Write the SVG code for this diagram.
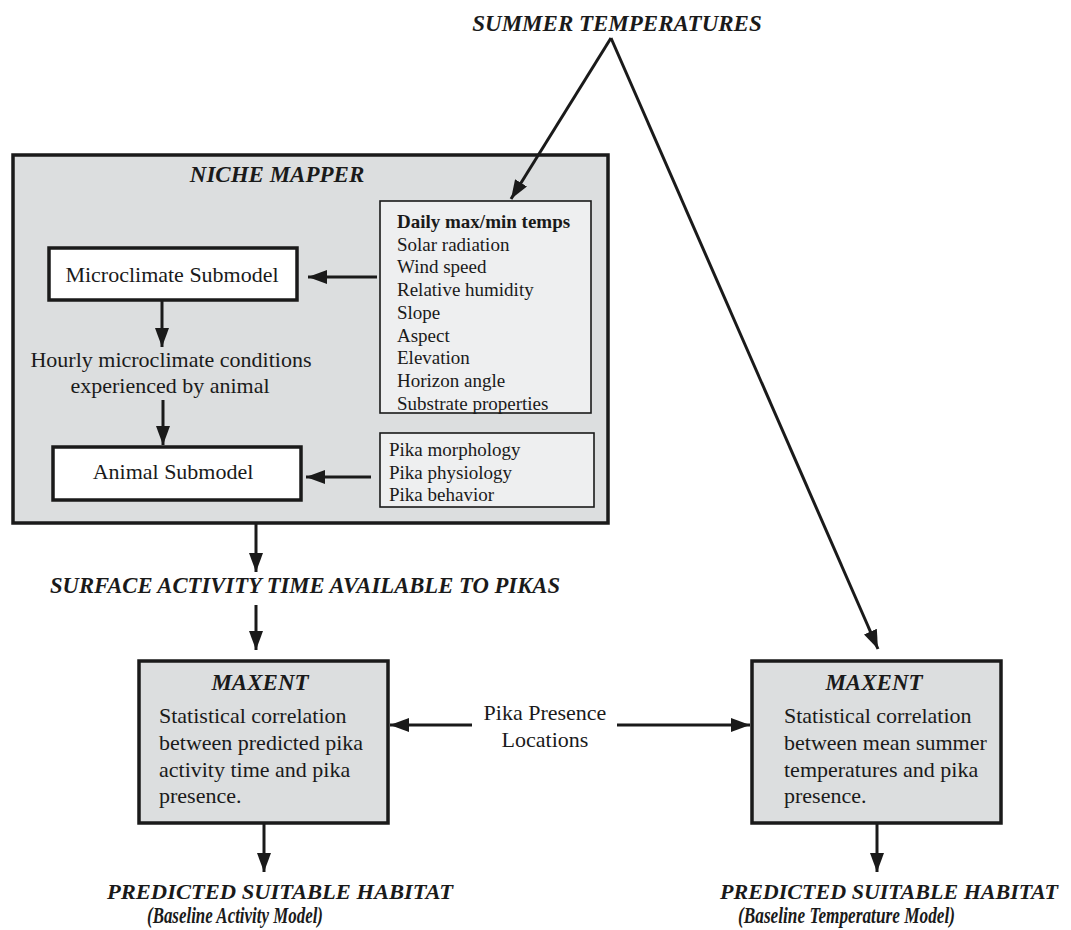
<svg xmlns="http://www.w3.org/2000/svg" width="1071" height="930" viewBox="0 0 1071 930">
<style>
text{font-family:"Liberation Serif","Times New Roman",Times,serif;fill:#1a1a1a}
.bi{font-weight:bold;font-style:italic;font-size:23px}
.bi22{font-weight:bold;font-style:italic;font-size:22px}
.r22{font-size:22px}
.r19{font-size:19px}
.b19{font-size:19px;font-weight:bold}
.mid{text-anchor:middle}
.big{fill:#dcdedf;stroke:#1a1a1a;stroke-width:3.5}
.sub{fill:#ffffff;stroke:#1a1a1a;stroke-width:3.5}
.inp{fill:#eeeff0;stroke:#1a1a1a;stroke-width:1.6}
.con{stroke:#1a1a1a;stroke-width:3;fill:none}
.diag{stroke:#1a1a1a;stroke-width:3;fill:none}
</style>
<defs>
<marker id="ah" viewBox="0 0 19 14" refX="19" refY="7" markerWidth="19" markerHeight="14" markerUnits="userSpaceOnUse" orient="auto">
<path d="M0,0 L19,7 L0,14 Z" fill="#1a1a1a"/>
</marker>
</defs>

<g id="summer-temperatures">
<text class="bi mid" x="617" y="31">SUMMER TEMPERATURES</text>
</g>

<g id="niche-mapper">
<rect class="big" x="13" y="155" width="595" height="368"/>
<text class="bi mid" x="277" y="182">NICHE MAPPER</text>
</g>

<g id="microclimate-submodel">
<rect class="sub" x="49" y="248" width="248" height="52"/>
<text class="r22 mid" x="172" y="282">Microclimate Submodel</text>
</g>

<g id="hourly-conditions">
<text class="r22 mid" x="171" y="367">Hourly microclimate conditions</text>
<text class="r22 mid" x="170" y="393">experienced by animal</text>
</g>

<g id="animal-submodel">
<rect class="sub" x="53" y="447" width="248" height="53"/>
<text class="r22 mid" x="173" y="479">Animal Submodel</text>
</g>

<g id="climate-inputs">
<rect class="inp" x="380" y="201" width="211" height="212"/>
<text class="b19" x="397" y="228">Daily max/min temps</text>
<text class="r19" x="397" y="251">Solar radiation</text>
<text class="r19" x="397" y="273">Wind speed</text>
<text class="r19" x="397" y="296">Relative humidity</text>
<text class="r19" x="397" y="319">Slope</text>
<text class="r19" x="397" y="342">Aspect</text>
<text class="r19" x="397" y="364">Elevation</text>
<text class="r19" x="397" y="387">Horizon angle</text>
<text class="r19" x="397" y="410">Substrate properties</text>
</g>

<g id="pika-inputs">
<rect class="inp" x="380" y="433" width="214" height="74"/>
<text class="r19" x="389" y="456">Pika morphology</text>
<text class="r19" x="389" y="479">Pika physiology</text>
<text class="r19" x="389" y="501">Pika behavior</text>
</g>

<g id="surface-activity">
<text class="bi" x="50" y="593" textLength="510" lengthAdjust="spacingAndGlyphs">SURFACE ACTIVITY TIME AVAILABLE TO PIKAS</text>
</g>

<g id="maxent-activity">
<rect class="big" x="139" y="661" width="249" height="162"/>
<text class="bi mid" x="260" y="690">MAXENT</text>
<text class="r22" x="159" y="723">Statistical correlation</text>
<text class="r22" x="159" y="750">between predicted pika</text>
<text class="r22" x="159" y="777">activity time and pika</text>
<text class="r22" x="159" y="803">presence.</text>
</g>

<g id="pika-presence">
<text class="r22 mid" x="545" y="720">Pika Presence</text>
<text class="r22 mid" x="545" y="747">Locations</text>
</g>

<g id="maxent-temperature">
<rect class="big" x="752" y="661" width="249" height="162"/>
<text class="bi mid" x="874" y="690">MAXENT</text>
<text class="r22" x="784" y="723">Statistical correlation</text>
<text class="r22" x="784" y="750">between mean summer</text>
<text class="r22" x="784" y="777">temperatures and pika</text>
<text class="r22" x="784" y="803">presence.</text>
</g>

<g id="habitat-activity">
<text class="bi22" x="107" y="899" textLength="346" lengthAdjust="spacingAndGlyphs">PREDICTED SUITABLE HABITAT</text>
<text class="bi" x="147" y="923" textLength="176" lengthAdjust="spacingAndGlyphs">(Baseline Activity Model)</text>
</g>

<g id="habitat-temperature">
<text class="bi22" x="720" y="899" textLength="338" lengthAdjust="spacingAndGlyphs">PREDICTED SUITABLE HABITAT</text>
<text class="bi" x="738" y="923" textLength="217" lengthAdjust="spacingAndGlyphs">(Baseline Temperature Model)</text>
</g>

<g id="connectors">
<line class="diag" x1="611" y1="38" x2="511" y2="199" marker-end="url(#ah)"/>
<line class="diag" x1="611" y1="38" x2="878" y2="649" marker-end="url(#ah)"/>
<line class="con" x1="377" y1="277" x2="308" y2="277" marker-end="url(#ah)"/>
<line class="con" x1="162" y1="300" x2="162" y2="347" marker-end="url(#ah)"/>
<line class="con" x1="163" y1="400" x2="163" y2="445" marker-end="url(#ah)"/>
<line class="con" x1="371" y1="477" x2="306" y2="477" marker-end="url(#ah)"/>
<line class="con" x1="256" y1="524" x2="256" y2="572" marker-end="url(#ah)"/>
<line class="con" x1="256" y1="605" x2="256" y2="650" marker-end="url(#ah)"/>
<line class="con" x1="472" y1="725" x2="390" y2="725" marker-end="url(#ah)"/>
<line class="con" x1="617" y1="725" x2="750" y2="725" marker-end="url(#ah)"/>
<line class="con" x1="264" y1="824" x2="264" y2="872" marker-end="url(#ah)"/>
<line class="con" x1="877" y1="824" x2="877" y2="872" marker-end="url(#ah)"/>
</g>
</svg>
